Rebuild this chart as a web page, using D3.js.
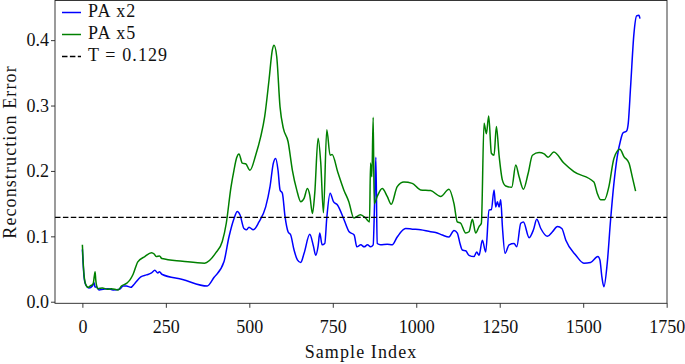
<!DOCTYPE html>
<html>
<head>
<meta charset="utf-8">
<script src="https://cdn.jsdelivr.net/npm/d3@7"></script>
<style>
  body { margin: 0; background: white; }
  text { font-family: "Liberation Serif", "Times New Roman", serif; }
</style>
</head>
<body>
<div id="chart"></div>
<script>
// PA x2 reconstruction error (sample index, error)
const x2Index = [0, 3, 5, 10, 20, 30, 35, 38, 42, 50, 62, 77, 92, 112, 122, 132, 145, 157, 175, 192, 207,
  217, 226, 231, 238, 300, 374, 394, 424, 439, 454, 464, 472, 484, 492, 499, 512, 529, 549, 562, 572,
  579, 586, 592, 599, 607, 616, 624, 634, 644, 654, 664, 681, 692, 699, 706, 711, 718, 726, 732, 742,
  752, 764, 784, 799, 814, 822, 834, 844, 854, 863, 871, 875, 879, 883, 893, 913, 928, 943, 968, 988,
  1013, 1043, 1058, 1078, 1098, 1113, 1123, 1131, 1138, 1148, 1158, 1173, 1181, 1188, 1198, 1208, 1218, 1225, 1233, 1238,
  1243, 1248, 1253, 1258, 1266, 1278, 1293, 1301, 1313, 1321, 1338, 1351, 1361, 1373, 1393, 1408, 1423, 1436, 1448, 1478,
  1502, 1522, 1544, 1550, 1556, 1562, 1572, 1582, 1592, 1602, 1612, 1619, 1630, 1635, 1642, 1652, 1660, 1667, 1670];
const x2Error = [0.080, 0.052, 0.038, 0.026, 0.021, 0.024, 0.029, 0.022, 0.023, 0.018, 0.019, 0.020, 0.018, 0.019, 0.024, 0.024, 0.022, 0.028, 0.038, 0.041, 0.044,
  0.048, 0.044, 0.046, 0.042, 0.034, 0.024, 0.037, 0.061, 0.099, 0.127, 0.138, 0.133, 0.112, 0.110, 0.114, 0.110, 0.122, 0.145, 0.176, 0.212,
  0.219, 0.201, 0.171, 0.166, 0.130, 0.107, 0.102, 0.079, 0.064, 0.060, 0.074, 0.103, 0.085, 0.071, 0.085, 0.105, 0.087, 0.089, 0.128, 0.166,
  0.153, 0.148, 0.125, 0.107, 0.102, 0.084, 0.087, 0.084, 0.087, 0.084, 0.087, 0.148, 0.221, 0.089, 0.087, 0.088, 0.087, 0.099, 0.112, 0.111,
  0.110, 0.107, 0.106, 0.102, 0.099, 0.109, 0.105, 0.089, 0.079, 0.078, 0.071, 0.069, 0.076, 0.071, 0.094, 0.076, 0.140, 0.141, 0.171, 0.145,
  0.153, 0.145, 0.156, 0.115, 0.074, 0.087, 0.089, 0.084, 0.120, 0.122, 0.098, 0.110, 0.126, 0.112, 0.100, 0.107, 0.115, 0.112, 0.094, 0.071,
  0.059, 0.060, 0.069, 0.064, 0.038, 0.023, 0.059, 0.125, 0.181, 0.222, 0.247, 0.258, 0.261, 0.273, 0.329, 0.410, 0.437, 0.438, 0.433];

// PA x5 reconstruction error
const x5Index = [0, 3, 5, 9, 17, 23, 32, 36, 38, 40, 42, 47, 60, 75, 87, 107, 117, 132, 142, 152,
  166, 187, 207, 215, 221, 231, 238, 300, 366, 400, 419, 431, 445, 454, 462, 469, 479, 489, 502, 519,
  534, 546, 559, 569, 574, 582, 592, 602, 616, 629, 642, 654, 664, 674, 681, 689, 696, 706, 714, 722,
  732, 742, 748, 765, 783, 798, 813, 833, 848, 860, 863, 867, 871, 874, 883, 898, 913, 925, 943, 963,
  988, 1013, 1043, 1073, 1098, 1113, 1123, 1133, 1148, 1158, 1168, 1178, 1188, 1195, 1203, 1210, 1217, 1225, 1233, 1240,
  1248, 1258, 1268, 1286, 1298, 1308, 1321, 1335, 1348, 1368, 1383, 1395, 1412, 1442, 1472, 1532, 1542, 1552, 1564, 1577,
  1592, 1610, 1622, 1637, 1647, 1657];
const x5Error = [0.087, 0.055, 0.041, 0.028, 0.022, 0.024, 0.027, 0.040, 0.046, 0.034, 0.026, 0.020, 0.021, 0.019, 0.020, 0.018, 0.024, 0.028, 0.033, 0.042,
  0.061, 0.069, 0.075, 0.073, 0.069, 0.070, 0.066, 0.062, 0.059, 0.075, 0.092, 0.120, 0.175, 0.201, 0.220, 0.226, 0.212, 0.211, 0.201, 0.224,
  0.252, 0.283, 0.339, 0.385, 0.392, 0.375, 0.298, 0.265, 0.245, 0.201, 0.171, 0.153, 0.158, 0.173, 0.163, 0.135, 0.166, 0.250, 0.212, 0.136,
  0.263, 0.224, 0.225, 0.198, 0.171, 0.153, 0.128, 0.133, 0.128, 0.122, 0.212, 0.191, 0.282, 0.150, 0.161, 0.173, 0.161, 0.149, 0.176, 0.183,
  0.181, 0.171, 0.170, 0.161, 0.172, 0.150, 0.122, 0.120, 0.105, 0.107, 0.126, 0.105, 0.115, 0.120, 0.273, 0.257, 0.284, 0.227, 0.224, 0.268,
  0.224, 0.186, 0.177, 0.175, 0.209, 0.191, 0.172, 0.196, 0.224, 0.228, 0.226, 0.221, 0.229, 0.212, 0.199, 0.183, 0.166, 0.156, 0.156, 0.176,
  0.219, 0.233, 0.222, 0.212, 0.191, 0.169];

const threshold = 0.129;
const xTicks = [0, 250, 500, 750, 1000, 1250, 1500, 1750];
const yTicks = [0.0, 0.1, 0.2, 0.3, 0.4];
const legendLabels = ["PA x2", "PA x5", "T = 0.129"];

const width = 685;
const height = 364;

const svg = d3.select("#chart")
  .append("svg")
  .attr("width", width)
  .attr("height", height);

const xScale = d3.scaleLinear()
  .domain([-82, 1751])
  .range([55, 667]);

const yScale = d3.scaleLinear()
  .domain([-0.0024, 0.4606])
  .range([303.3, 0.5]);

const line = d3.line()
  .x(d => xScale(d[0]))
  .y(d => yScale(d[1]))
  .curve(d3.curveMonotoneX);

const x2Data = x2Index.map((v, i) => [v, x2Error[i]]);
const x5Data = x5Index.map((v, i) => [v, x5Error[i]]);

svg.append("path")
  .datum(x2Data)
  .attr("d", line)
  .attr("fill", "none")
  .attr("stroke", "#0000ff")
  .attr("stroke-width", 1.5);

svg.append("path")
  .datum(x5Data)
  .attr("d", line)
  .attr("fill", "none")
  .attr("stroke", "#008000")
  .attr("stroke-width", 1.5);

svg.append("line")
  .attr("x1", xScale.range()[0])
  .attr("x2", xScale.range()[1])
  .attr("y1", yScale(threshold))
  .attr("y2", yScale(threshold))
  .attr("stroke", "black")
  .attr("stroke-width", 1.4)
  .attr("stroke-dasharray", "5.5,2.4");

// axes
const xAxis = svg.append("g")
  .attr("transform", `translate(0,${yScale.range()[0]})`)
  .call(d3.axisBottom(xScale).tickValues(xTicks).tickSize(4.5).tickPadding(12).tickFormat(d3.format("d")));

const yAxis = svg.append("g")
  .attr("transform", `translate(${xScale.range()[0]},0)`)
  .call(d3.axisLeft(yScale).tickValues(yTicks).tickSize(4).tickPadding(2).tickFormat(d3.format(".1f")));

[xAxis, yAxis].forEach(g => {
  g.select(".domain").remove();
  g.selectAll(".tick line").attr("stroke", "#222").attr("stroke-width", 0.9);
  g.selectAll(".tick text")
    .attr("fill", "#111")
    .style("font-family", "'Liberation Serif', serif")
    .style("font-size", "18px");
});

// frame
svg.append("rect")
  .attr("x", xScale.range()[0])
  .attr("y", yScale.range()[1])
  .attr("width", xScale.range()[1] - xScale.range()[0])
  .attr("height", yScale.range()[0] - yScale.range()[1])
  .attr("fill", "none")
  .attr("stroke", "#222")
  .attr("stroke-width", 0.9);

// axis labels
svg.append("text")
  .attr("x", (xScale.range()[0] + xScale.range()[1]) / 2)
  .attr("y", 358)
  .attr("text-anchor", "middle")
  .style("font-size", "18px")
  .style("letter-spacing", "1.1px")
  .attr("fill", "#111")
  .text("Sample Index");

svg.append("text")
  .attr("transform", "translate(16,152) rotate(-90)")
  .attr("text-anchor", "middle")
  .style("font-size", "18px")
  .style("letter-spacing", "1.1px")
  .attr("fill", "#111")
  .text("Reconstruction Error");

// legend
const legendColors = ["#0000ff", "#008000", "black"];
const legendDash = [null, null, "5.5,2.4"];
const legend = svg.append("g");

legendLabels.forEach((label, i) => {
  const ly = 12.5 + i * 22;
  legend.append("line")
    .attr("x1", 62).attr("x2", 81)
    .attr("y1", ly).attr("y2", ly)
    .attr("stroke", legendColors[i])
    .attr("stroke-width", 1.5)
    .attr("stroke-dasharray", legendDash[i]);
  legend.append("text")
    .attr("x", 88)
    .attr("y", ly + 4.5)
    .style("font-size", "18px")
    .style("letter-spacing", "1.1px")
    .style("white-space", "pre")
    .attr("fill", "#111")
    .text(label);
});
</script>
</body>
</html>
